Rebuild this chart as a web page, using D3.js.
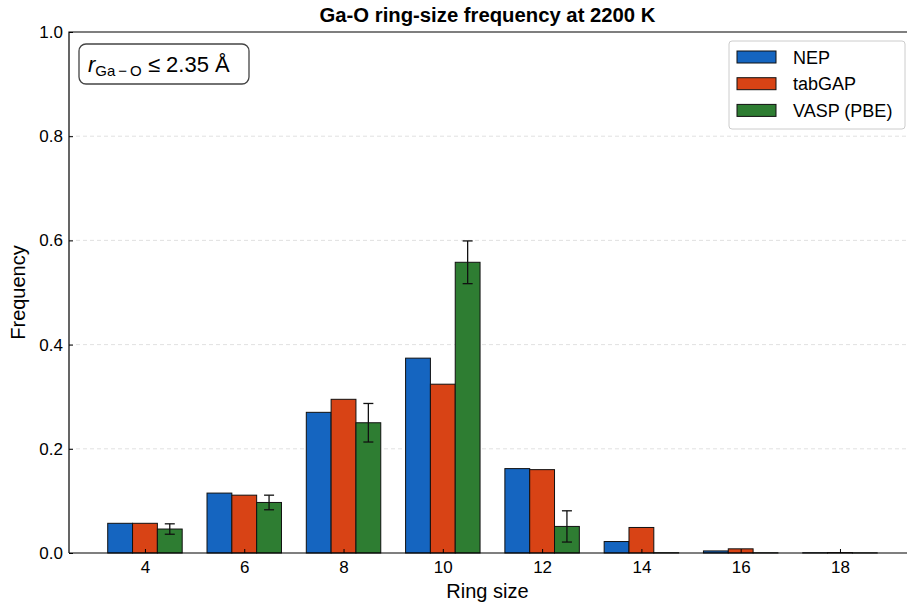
<!DOCTYPE html>
<html>
  <head>
    <meta charset="utf-8">
    <title>Ga-O ring-size frequency</title>
    <script src="https://cdnjs.cloudflare.com/ajax/libs/d3/7.8.5/d3.min.js"></script>
    <style>
      body { margin: 0; background: #fff; }
      text { font-family: "Liberation Sans", Arial, sans-serif; fill: #000; }
    </style>
  </head>
  <body>

    <script>
      var ringSizes = [4, 6, 8, 10, 12, 14, 16, 18];
      var seriesNames = ["NEP", "tabGAP", "VASP (PBE)"];
      var nep    = [0.057, 0.115, 0.270, 0.374, 0.162, 0.022, 0.004, 0.0005];
      var tabgap = [0.057, 0.111, 0.295, 0.324, 0.160, 0.049, 0.008, 0.0008];
      var vasp   = [0.046, 0.097, 0.250, 0.558, 0.051, 0.0005, 0.0004, 0.0003];
      var vaspErr = [0.010, 0.014, 0.037, 0.041, 0.030, 0, 0, 0];
      var yTicks = [0.0, 0.2, 0.4, 0.6, 0.8, 1.0];
      var colors = ["#1565C0", "#D84315", "#2E7D32"];

      var W = 907, H = 607;
      var m = {left: 69, right: 906, top: 32, bottom: 553};

      var svg = d3.select("body").append("svg")
        .attr("width", W)
        .attr("height", H);

      var x = d3.scaleLinear().domain([2.47, 19.33]).range([m.left, m.right]);
      var y = d3.scaleLinear().domain([0, 1]).range([m.bottom, m.top]);

      // dashed grid
      svg.append("g").selectAll("line")
        .data(yTicks.filter(function (d){ return d > 0 && d < 1; }))
        .enter().append("line")
          .attr("x1", m.left).attr("x2", m.right)
          .attr("y1", function (d){ return y(d); })
          .attr("y2", function (d){ return y(d); })
          .attr("stroke", "#d9d9d9")
          .attr("stroke-width", 0.8)
          .attr("stroke-dasharray", "4,3");

      // bars
      var series = [nep, tabgap, vasp];
      var barW = 0.5;
      series.forEach(function (vals, si){
        var off = (si - 1) * barW;
        svg.append("g").selectAll("rect")
          .data(vals)
          .enter().append("rect")
            .attr("x", function (d, i){ return x(ringSizes[i] + off - barW / 2); })
            .attr("width", x(barW) - x(0))
            .attr("y", function (d){ return y(d); })
            .attr("height", function (d){ return y(0) - y(d); })
            .attr("fill", colors[si])
            .attr("stroke", "#111")
            .attr("stroke-width", 1);
      });

      // error bars on VASP
      var eb = svg.append("g").attr("stroke", "#111").attr("stroke-width", 1.3);
      vasp.forEach(function (v, i){
        if (!vaspErr[i]) return;
        var cx = x(ringSizes[i] + barW);
        eb.append("line").attr("x1", cx).attr("x2", cx)
          .attr("y1", y(v - vaspErr[i])).attr("y2", y(v + vaspErr[i]));
        [v - vaspErr[i], v + vaspErr[i]].forEach(function (e){
          eb.append("line").attr("x1", cx - 5).attr("x2", cx + 5)
            .attr("y1", y(e)).attr("y2", y(e));
        });
      });

      // axes, ticks pointing inward
      var xAxis = d3.axisBottom(x).tickValues(ringSizes).tickSizeInner(-4).tickSizeOuter(0).tickPadding(8);
      var gx = svg.append("g").attr("transform", "translate(0," + m.bottom + ")").call(xAxis);
      var yAxis = d3.axisLeft(y).tickValues(yTicks).tickFormat(d3.format(".1f")).tickSizeInner(-4).tickSizeOuter(0).tickPadding(6);
      var gy = svg.append("g").attr("transform", "translate(" + m.left + ",0)").call(yAxis);
      [gx, gy].forEach(function (g){
        g.select(".domain").remove();
        g.selectAll("text").attr("font-size", 17).attr("font-family", "Liberation Sans, Arial, sans-serif");
        g.selectAll("line").attr("stroke", "#000");
      });

      // frame
      svg.append("path")
        .attr("d", "M" + m.left + "," + m.bottom + "V" + m.top + "H" + (W + 5) + "M" + m.left + "," + m.bottom + "H" + (W + 5))
        .attr("fill", "none")
        .attr("stroke", "#000")
        .attr("stroke-width", 1.2);

      // title and labels
      svg.append("text")
        .attr("x", (m.left + m.right) / 2).attr("y", 22)
        .attr("text-anchor", "middle")
        .attr("font-size", 20.3).attr("font-weight", "bold")
        .text("Ga-O ring-size frequency at 2200 K");
      svg.append("text")
        .attr("x", (m.left + m.right) / 2).attr("y", 598)
        .attr("text-anchor", "middle")
        .attr("font-size", 20)
        .text("Ring size");
      svg.append("text")
        .attr("transform", "translate(25," + ((m.top + m.bottom) / 2) + ") rotate(-90)")
        .attr("text-anchor", "middle")
        .attr("font-size", 20)
        .text("Frequency");

      // cutoff annotation
      svg.append("rect")
        .attr("x", 79).attr("y", 44).attr("width", 170).attr("height", 40)
        .attr("rx", 7).attr("ry", 7)
        .attr("fill", "#fff").attr("stroke", "#444").attr("stroke-width", 1.3);
      var ann = svg.append("text")
        .attr("x", 88).attr("y", 72)
        .attr("font-family", "DejaVu Sans")
        .attr("font-size", 22);
      ann.append("tspan").attr("font-style", "italic").text("r");
      ann.append("tspan").attr("font-size", 15).attr("dy", 4).text("Ga\u2009\u2212\u2009O");
      ann.append("tspan").attr("dy", -4).text(" \u2264 2.35 \u00c5");

      // legend
      var lg = svg.append("g");
      lg.append("rect")
        .attr("x", 729).attr("y", 41).attr("width", 176).attr("height", 88)
        .attr("rx", 3).attr("fill", "#fff").attr("stroke", "#ccc").attr("stroke-width", 1);
      seriesNames.forEach(function (name, i){
        var yy = 51 + i * 26.7;
        lg.append("rect").attr("x", 737).attr("y", yy).attr("width", 39).attr("height", 12)
          .attr("fill", colors[i]).attr("stroke", "#111").attr("stroke-width", 1);
        lg.append("text").attr("x", 793).attr("y", yy + 12.5).attr("font-size", 18).text(name);
      });
    </script>

  </body>
</html>
